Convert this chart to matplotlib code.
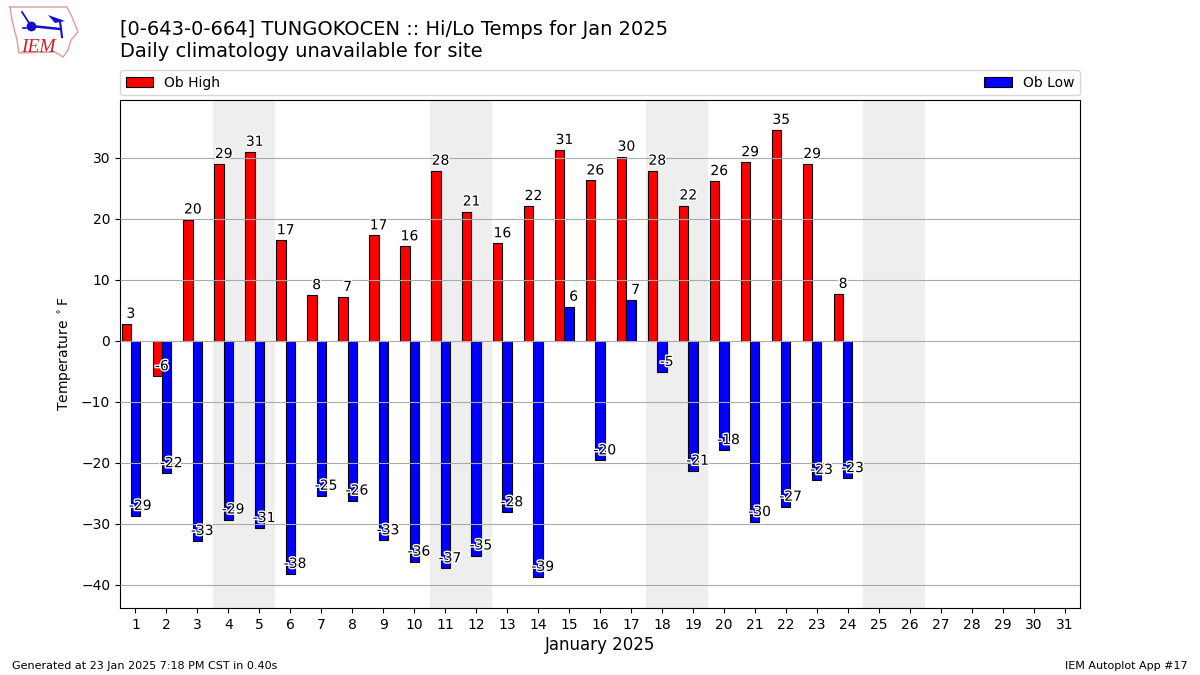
import matplotlib
matplotlib.use('Agg')
from matplotlib import pyplot as plt
import matplotlib.patheffects as pe

days = list(range(1, 25))
all_days = list(range(1, 32))
highs = [2.8, -5.8, 19.9, 29.0, 31.0, 16.5, 7.5, 7.2, 17.3, 15.5, 27.9, 21.2,
         16.0, 22.1, 31.3, 26.3, 30.2, 27.9, 22.2, 26.2, 29.3, 34.6, 29.0, 7.7]
lows = [-28.7, -21.7, -32.8, -29.3, -30.7, -38.2, -25.4, -26.2, -32.7, -36.2, -37.3, -35.2,
        -28.1, -38.7, 5.6, -19.6, 6.7, -5.1, -21.3, -17.9, -29.7, -27.2, -22.8, -22.5]
high_labels = [3, -6, 20, 29, 31, 17, 8, 7, 17, 16, 28, 21,
               16, 22, 31, 26, 30, 28, 22, 26, 29, 35, 29, 8]
low_labels = [-29, -22, -33, -29, -31, -38, -25, -26, -33, -36, -37, -35,
              -28, -39, 6, -20, 7, -5, -21, -18, -30, -27, -23, -23]
weekends = [(3.5, 5.5), (10.5, 12.5), (17.5, 19.5), (24.5, 26.5)]

fig = plt.figure(figsize=(12, 6.75), dpi=100)
ax = fig.add_axes([120 / 1200, 1 - 608 / 675, 960 / 1200, 508 / 675])

for start, end in weekends:
    ax.axvspan(start, end, color='#eeeeee', lw=0, zorder=0)

ax.bar([d - 0.3 for d in days], highs, width=0.3, color='red', edgecolor='k', lw=0.8, label='Ob High', zorder=1)
ax.bar(days, lows, width=0.3, color='blue', edgecolor='k', lw=0.8, label='Ob Low', zorder=1)

# labels sit just above the end of each bar
stroke = [pe.withStroke(linewidth=2, foreground='white')]
for d, val, lbl in zip(days, highs, high_labels):
    ax.text(d - 0.15, val + 0.5, str(lbl), ha='center', va='bottom', fontsize=10,
            path_effects=stroke, zorder=5)
for d, val, lbl in zip(days, lows, low_labels):
    ax.text(d + 0.15, val + 0.5, str(lbl), ha='center', va='bottom', fontsize=10,
            path_effects=stroke, zorder=5)

ax.set_xlim(0.5, 31.5)
ax.set_ylim(-43.8, 39.5)
ax.set_xticks(all_days)
ax.set_yticks(range(-40, 31, 10))
ax.yaxis.grid(True, color='#aaaaaa', lw=0.8, zorder=2)
ax.set_axisbelow(False)
ax.tick_params(axis='both', labelsize=10)
ax.set_xlabel('January 2025', fontsize=12, labelpad=3)
ax.set_ylabel(r'Temperature $^\circ$F', fontsize=10, labelpad=5)

ax.legend(loc='lower left', bbox_to_anchor=(0, 1.009, 1, 0.05), mode='expand', ncol=2,
          borderaxespad=0, fontsize=10)

fig.text(120 / 1200, 1 - 61 / 675, '[0-643-0-664] TUNGOKOCEN :: Hi/Lo Temps for Jan 2025\nDaily climatology unavailable for site',
         fontsize=14, ha='left', va='bottom', linespacing=1.2)
fig.text(12 / 1200, 1 - 671 / 675, 'Generated at 23 Jan 2025 7:18 PM CST in 0.40s', fontsize=8, ha='left', va='bottom')
fig.text(1188 / 1200, 1 - 671 / 675, 'IEM Autoplot App #17', fontsize=8, ha='right', va='bottom')

# logo, rough sketch in pixel units
logo = fig.add_axes([0, 1 - 65 / 675, 90 / 1200, 65 / 675])
logo.set_xlim(0, 90)
logo.set_ylim(65, 0)
logo.axis('off')
logo.plot([10, 67, 72, 78, 71, 68, 63, 55, 19, 17, 12, 10],
          [7, 7, 17, 32, 40, 50, 57, 52, 53, 40, 20, 7], color='#e39a9a', lw=1)
logo.plot([31, 60], [26, 29], color='#1111cc', lw=1.8)
logo.plot([31], [26], 'o', color='#1111cc', ms=6)
logo.plot([22, 31], [12, 26], color='#1111cc', lw=1.3)
logo.fill([48, 65, 55], [15, 21, 23], color='#1111cc', lw=0)
logo.plot([60, 62], [21, 37], color='#1111cc', lw=1.5)
logo.plot([23, 26], [28, 28], color='#1111cc', lw=1.2)
logo.text(21, 52, 'IEM', color='#cc2222', fontsize=14, family='Liberation Serif', style='italic', ha='left', va='baseline')

fig.savefig('out.png', dpi=100)
